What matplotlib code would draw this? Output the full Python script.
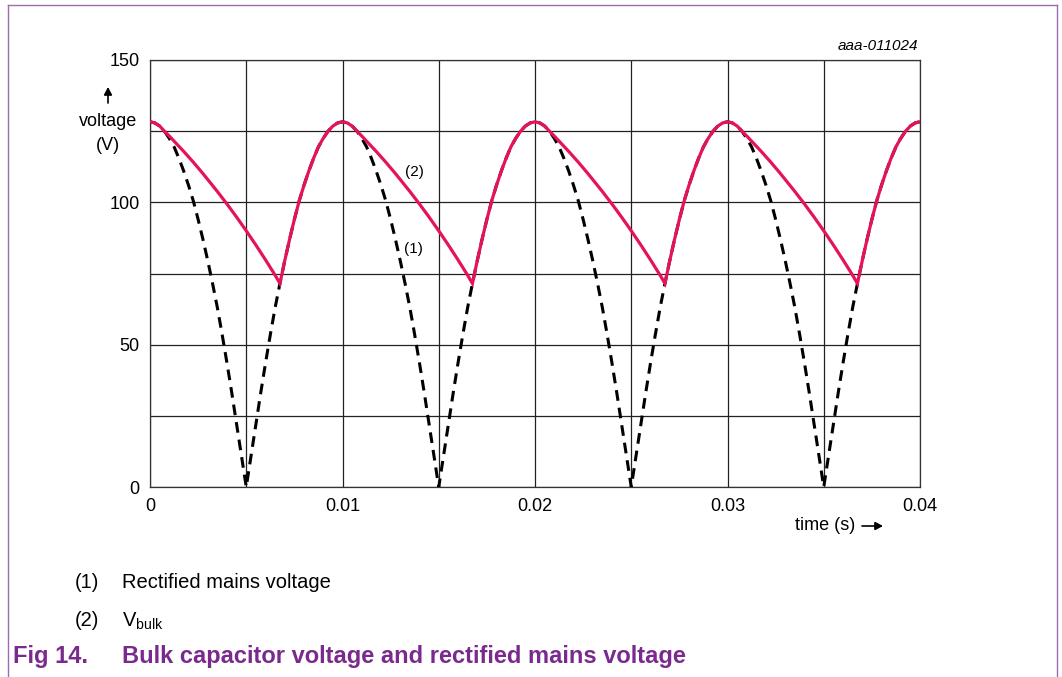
import matplotlib
matplotlib.use("Agg")
import matplotlib.pyplot as plt
from matplotlib.ticker import MultipleLocator, FixedLocator
from matplotlib.lines import Line2D
from matplotlib.patches import FancyArrowPatch

plt.rcParams['font.family'] = ['Liberation Sans', 'DejaVu Sans']
plt.rcParams['mathtext.fontset'] = 'custom'
plt.rcParams['mathtext.rm'] = 'Liberation Sans'
plt.rcParams['mathtext.it'] = 'Liberation Sans:italic'

# ---------------- data ----------------
# time in seconds, 0.25 ms steps
time_ms = [i * 0.25 for i in range(161)]
time_s = [t / 1000.0 for t in time_ms]

# (1) rectified mains voltage (V)
rectified = [
    128.3, 127.9, 126.8, 125.0, 122.5, 119.5, 115.5, 111.0, 106.0, 100.5,
    94.0, 87.0, 79.5, 71.5, 63.0, 53.5, 43.5, 33.0, 22.0, 11.0,
    0.0, 11.0, 22.0, 33.0, 43.5, 53.5, 63.0, 71.5, 79.5, 87.0,
    94.0, 100.5, 106.0, 111.0, 115.5, 119.5, 122.5, 125.0, 126.8, 127.9,
    128.3, 127.9, 126.8, 125.0, 122.5, 119.5, 115.5, 111.0, 106.0, 100.5,
    94.0, 87.0, 79.5, 71.5, 63.0, 53.5, 43.5, 33.0, 22.0, 11.0,
    0.0, 11.0, 22.0, 33.0, 43.5, 53.5, 63.0, 71.5, 79.5, 87.0,
    94.0, 100.5, 106.0, 111.0, 115.5, 119.5, 122.5, 125.0, 126.8, 127.9,
    128.3, 127.9, 126.8, 125.0, 122.5, 119.5, 115.5, 111.0, 106.0, 100.5,
    94.0, 87.0, 79.5, 71.5, 63.0, 53.5, 43.5, 33.0, 22.0, 11.0,
    0.0, 11.0, 22.0, 33.0, 43.5, 53.5, 63.0, 71.5, 79.5, 87.0,
    94.0, 100.5, 106.0, 111.0, 115.5, 119.5, 122.5, 125.0, 126.8, 127.9,
    128.3, 127.9, 126.8, 125.0, 122.5, 119.5, 115.5, 111.0, 106.0, 100.5,
    94.0, 87.0, 79.5, 71.5, 63.0, 53.5, 43.5, 33.0, 22.0, 11.0,
    0.0, 11.0, 22.0, 33.0, 43.5, 53.5, 63.0, 71.5, 79.5, 87.0,
    94.0, 100.5, 106.0, 111.0, 115.5, 119.5, 122.5, 125.0, 126.8, 127.9,
    128.3,
]

# (2) V_bulk (V)
vbulk = [
    128.3, 127.9, 126.8, 125.0, 123.3, 121.5, 119.7, 117.9, 116.0, 114.1,
    112.1, 110.1, 108.0, 105.9, 103.8, 101.6, 99.4, 97.1, 94.8, 92.4,
    90.0, 87.5, 85.0, 82.4, 79.8, 77.1, 74.4, 71.5, 79.5, 87.0,
    94.0, 100.5, 106.0, 111.0, 115.5, 119.5, 122.5, 125.0, 126.8, 127.9,
    128.3, 127.9, 126.8, 125.0, 123.3, 121.5, 119.7, 117.9, 116.0, 114.1,
    112.1, 110.1, 108.0, 105.9, 103.8, 101.6, 99.4, 97.1, 94.8, 92.4,
    90.0, 87.5, 85.0, 82.4, 79.8, 77.1, 74.4, 71.5, 79.5, 87.0,
    94.0, 100.5, 106.0, 111.0, 115.5, 119.5, 122.5, 125.0, 126.8, 127.9,
    128.3, 127.9, 126.8, 125.0, 123.3, 121.5, 119.7, 117.9, 116.0, 114.1,
    112.1, 110.1, 108.0, 105.9, 103.8, 101.6, 99.4, 97.1, 94.8, 92.4,
    90.0, 87.5, 85.0, 82.4, 79.8, 77.1, 74.4, 71.5, 79.5, 87.0,
    94.0, 100.5, 106.0, 111.0, 115.5, 119.5, 122.5, 125.0, 126.8, 127.9,
    128.3, 127.9, 126.8, 125.0, 123.3, 121.5, 119.7, 117.9, 116.0, 114.1,
    112.1, 110.1, 108.0, 105.9, 103.8, 101.6, 99.4, 97.1, 94.8, 92.4,
    90.0, 87.5, 85.0, 82.4, 79.8, 77.1, 74.4, 71.5, 79.5, 87.0,
    94.0, 100.5, 106.0, 111.0, 115.5, 119.5, 122.5, 125.0, 126.8, 127.9,
    128.3,
]

x_ticks = [0, 0.01, 0.02, 0.03, 0.04]
x_tick_labels = ["0", "0.01", "0.02", "0.03", "0.04"]
y_ticks = [0, 50, 100, 150]
y_tick_labels = ["0", "50", "100", "150"]

legend_items = [("(1)", "Rectified mains voltage"), ("(2)", r"V$_{\mathrm{bulk}}$")]
caption_num = "Fig 14."
caption_text = "Bulk capacitor voltage and rectified mains voltage"
chart_id = "aaa-011024"

# ---------------- figure ----------------
W, H = 1062, 677
fig = plt.figure(figsize=(W / 100, H / 100), dpi=100)

def fx(x):
    return x / W

def fy(y):
    return 1 - y / H

purple = "#7A2A8C"
frame_col = "#9C6BB0"
red = "#E5135A"

# frame lines (left, top, right)
fig.add_artist(Line2D([fx(8), fx(8)], [fy(5), fy(677)], color=frame_col, lw=1.0))
fig.add_artist(Line2D([fx(8), fx(1057)], [fy(5), fy(5)], color=frame_col, lw=1.0))
fig.add_artist(Line2D([fx(1057), fx(1057)], [fy(5), fy(677)], color=frame_col, lw=1.0))

ax = fig.add_axes([fx(150), fy(487), (920 - 150) / W, (487 - 60) / H])
ax.set_xlim(0, 0.04)
ax.set_ylim(0, 150)

ax.xaxis.set_major_locator(FixedLocator(x_ticks))
ax.xaxis.set_minor_locator(MultipleLocator(0.005))
ax.yaxis.set_major_locator(FixedLocator(y_ticks))
ax.yaxis.set_minor_locator(MultipleLocator(25))
ax.set_xticklabels(x_tick_labels)
ax.set_yticklabels(y_tick_labels)
ax.tick_params(which='both', length=0, labelsize=13, colors='black')
ax.tick_params(axis='x', pad=8)
ax.tick_params(axis='y', pad=7.5)
ax.grid(True, which='both', color='#222222', lw=0.9)
for s in ax.spines.values():
    s.set_color('#333333')
    s.set_linewidth(0.9)

ax.plot(time_s, rectified, color='black', lw=2.2, ls=(0, (3.5, 2.3)), zorder=3)
ax.plot(time_s, vbulk, color=red, lw=2.3, zorder=4, solid_joinstyle='miter')

# curve labels
ax.text(0.01371, 83.6, "(1)", fontsize=11, ha='center', va='center')
ax.text(0.01374, 110.6, "(2)", fontsize=11, ha='center', va='center')

# axis annotations
fig.text(fx(108), fy(121), "voltage", fontsize=13, ha='center', va='center')
fig.text(fx(108), fy(145), "(V)", fontsize=13, ha='center', va='center')
fig.add_artist(FancyArrowPatch(
    (fx(108), fy(103)), (fx(108), fy(87)), transform=fig.transFigure,
    arrowstyle='-|>,head_length=4.5,head_width=2.4', color='black', lw=1.2,
    shrinkA=0, shrinkB=0))
fig.text(fx(855), fy(526), "time (s)", fontsize=13, ha='right', va='center')
fig.add_artist(FancyArrowPatch(
    (fx(862), fy(526)), (fx(883), fy(526)), transform=fig.transFigure,
    arrowstyle='-|>,head_length=4.5,head_width=2.4', color='black', lw=1.2,
    shrinkA=0, shrinkB=0))

fig.text(fx(918), fy(46), chart_id, fontsize=11, ha='right', va='center', style='italic')

# legend below
ys = [583, 621]
for (num, txt), y in zip(legend_items, ys):
    fig.text(fx(75), fy(y), num, fontsize=14.5, ha='left', va='center')
    fig.text(fx(122), fy(y), txt, fontsize=14.5, ha='left', va='center')

fig.text(fx(13), fy(656), caption_num, fontsize=17, ha='left', va='center',
         color=purple, fontweight='bold')
fig.text(fx(122), fy(656), caption_text, fontsize=17, ha='left', va='center',
         color=purple, fontweight='bold')

fig.savefig("out.png", dpi=100)
